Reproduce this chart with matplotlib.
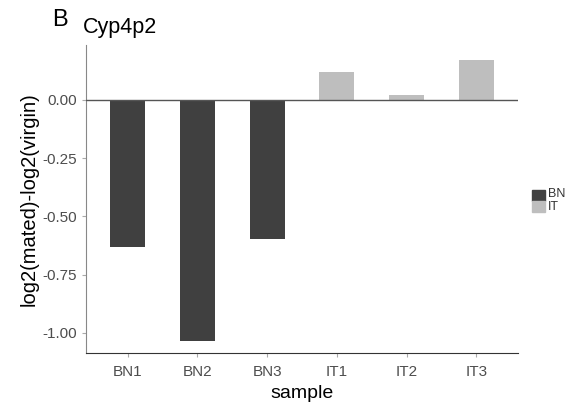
import matplotlib.pyplot as plt
import numpy as np

samples = ["BN1", "BN2", "BN3", "IT1", "IT2", "IT3"]
groups = ["BN", "BN", "BN", "IT", "IT", "IT"]
values = [-0.63, -1.035, -0.597, 0.12, 0.02, 0.17]
group_colors = {"BN": "#404040", "IT": "#bebebe"}

plt.rcParams['font.family'] = ['Liberation Sans', 'DejaVu Sans']

fig = plt.figure(figsize=(5.73, 4.09), dpi=100)
ax = fig.add_axes([86 / 573, 1 - 353 / 409, 432 / 573, 308 / 409])

x = np.arange(1, len(samples) + 1)
ax.bar(x, values, width=0.5, color=[group_colors[g] for g in groups], zorder=2)
ax.axhline(0, color="#555555", lw=1.0, zorder=3)

ax.set_xlim(0.4, 6.6)
ax.set_ylim(-1.086, 0.236)
ax.set_yticks([0, -0.25, -0.5, -0.75, -1.0])
ax.set_yticklabels(["0.00", "-0.25", "-0.50", "-0.75", "-1.00"])
ax.set_xticks(x)
ax.set_xticklabels(samples)
ax.tick_params(colors="#aaaaaa", labelcolor="#4d4d4d", labelsize=11, length=3)
ax.tick_params(axis="x", pad=6)

for s in ["top", "right"]:
    ax.spines[s].set_visible(False)
ax.spines["left"].set_color("#888888")
ax.spines["bottom"].set_color("#333333")

ax.set_xlabel("sample", fontsize=14, labelpad=4)
ax.set_ylabel("log2(mated)-log2(virgin)", fontsize=14.5, labelpad=3)

fig.text(52 / 573, 1 - 20 / 409, "B", fontsize=17, va="center")
fig.text(83 / 573, 1 - 33 / 409, "Cyp4p2", fontsize=15.5, va="baseline")

# legend keys and labels
for i, g in enumerate(["BN", "IT"]):
    y0 = 1 - (190 + i * 11) / 409
    fig.patches.append(plt.Rectangle((532 / 573, y0 - 11 / 409), 13 / 573, 11 / 409,
                                     transform=fig.transFigure, color=group_colors[g]))
    fig.text(548 / 573, 1 - (194 + i * 13) / 409, g, fontsize=9, va="center",
             color="#333333")

fig.savefig("out.png", dpi=100)
